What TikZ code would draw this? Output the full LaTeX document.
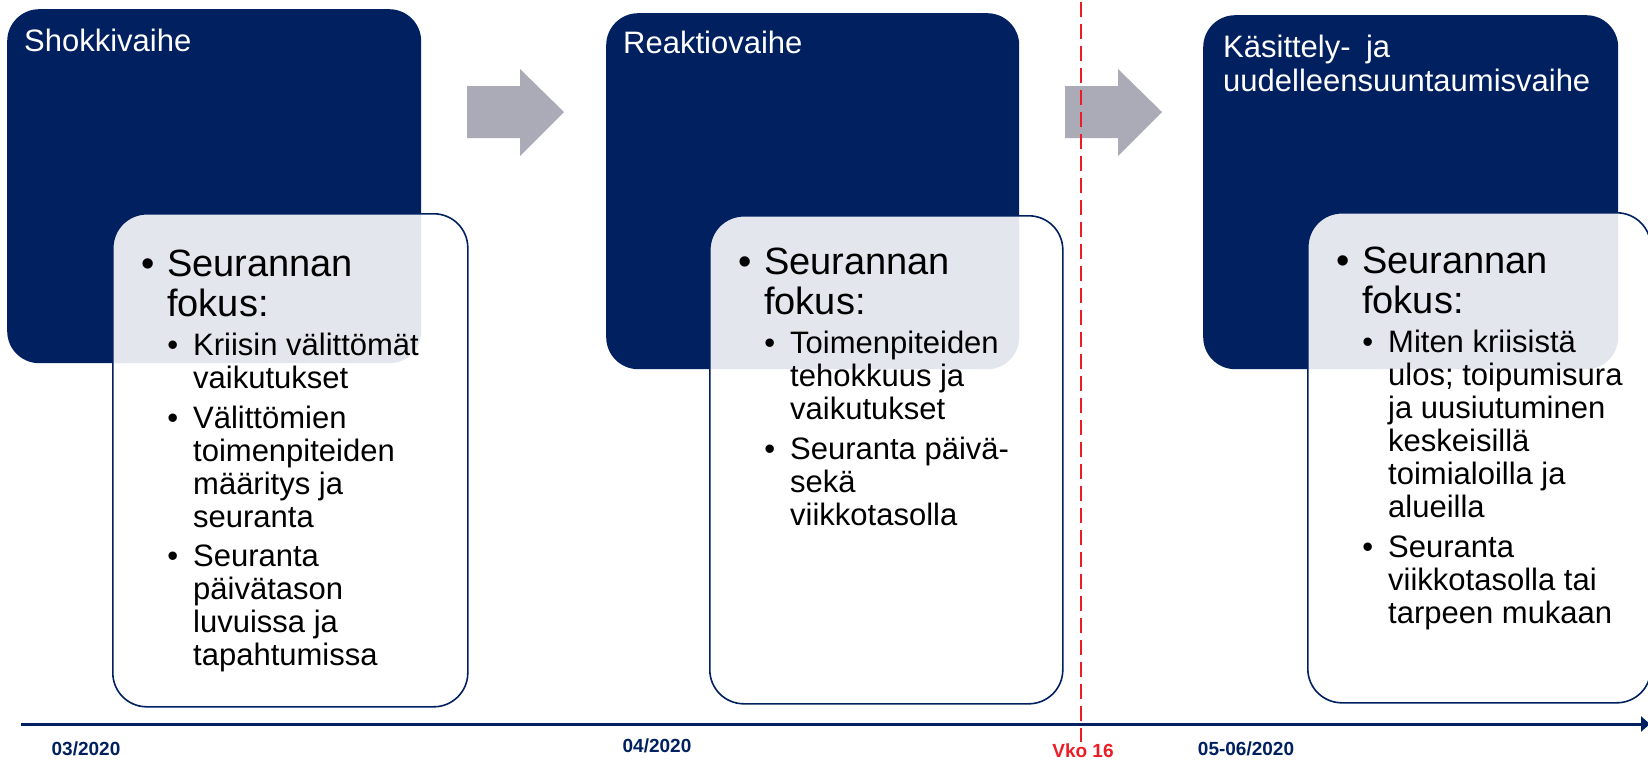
\documentclass[tikz,border=0pt]{standalone}
\usepackage{fontspec}
\setmainfont{Liberation Sans}
\usetikzlibrary{arrows.meta,positioning}
\definecolor{navy}{RGB}{0,32,96}
\definecolor{arrowgrey}{RGB}{170,171,182}
\definecolor{vkored}{RGB}{237,28,36}
\newcommand{\focushead}{\fontsize{38}{40}\selectfont\spaceskip=0pt\xspaceskip=0pt\leftskip=25pt\noindent\llap{\textbullet\hskip12pt}Seurannan\\fokus:\par}
\newcommand{\focusitem}[1]{\vspace{6.5pt}\fontsize{31}{33}\selectfont\leftskip=51pt\noindent\llap{\textbullet\hskip15pt}#1\par}
\tikzset{
    phase-box/.style = {fill=navy, rounded corners=32pt, inner sep=0pt, anchor=north west},
    phase-title/.style = {text=white, text width=390pt, inner sep=0pt, anchor=base west, font=\fontsize{31}{35}\selectfont},
    focus-box/.style = {draw=navy, line width=1.6pt, fill=white, fill opacity=0.89, rounded corners=34pt, inner sep=0pt, anchor=north west},
    focus-text/.style = {text width=300pt, inner sep=0pt, anchor=base west, text=black},
    step-arrow/.style = {fill=arrowgrey},
    vko-line/.style = {draw=vkored, line width=1.5pt, dash pattern=on 15pt off 7pt},
    time-line/.style = {draw=navy, line width=3pt, -{Triangle[length=9pt,width=15pt]}},
    date-label/.style = {text=navy, font=\bfseries\fontsize{19}{19}\selectfont, inner sep=0pt, anchor=base},
}

\begin{document}
\begin{tikzpicture}[x=1pt, y=-1pt]
\useasboundingbox (0,0) rectangle (1648,760);

% phases
\node[phase-box, minimum width=414pt, minimum height=354pt] (shock) at (7,9) {};
\node[phase-box, minimum width=413pt, minimum height=356pt] (reaction) at (606,13) {};
\node[phase-box, minimum width=415pt, minimum height=354pt] (recovery) at (1203,15) {};
\node[phase-title] (shocktitle) at ([shift={(17,43)}]shock.north west) {Shokkivaihe};
\node[phase-title] (reactiontitle) at ([shift={(17,41)}]reaction.north west) {Reaktiovaihe};
\node[phase-title] (recoverytitle) at ([shift={(20,42)}]recovery.north west) {Käsittely-\hspace{5pt} ja\\uudelleensuuntaumisvaihe};

% focus boxes
\node[focus-box, minimum width=355pt, minimum height=493pt] (shockfocus) at (112,213) {};
\node[focus-box, minimum width=353pt, minimum height=488pt] (reactionfocus) at (709,215) {};
\node[focus-box, minimum width=343pt, minimum height=490pt] (recoveryfocus) at (1307,212) {};

\node[focus-text] (shocktext) at ([shift={(30,63)}]shockfocus.north west) {\focushead
    \focusitem{Kriisin välittömät\\vaikutukset}
    \focusitem{Välittömien\\toimenpiteiden\\määritys ja\\seuranta}
    \focusitem{Seuranta\\päivätason\\luvuissa ja\\tapahtumissa}};
\node[focus-text] (reactiontext) at ([shift={(30,59)}]reactionfocus.north west) {\focushead
    \focusitem{Toimenpiteiden\\tehokkuus ja\\vaikutukset}
    \focusitem{Seuranta päivä-\\sekä\\viikkotasolla}};
\node[focus-text] (recoverytext) at ([shift={(30,61)}]recoveryfocus.north west) {\focushead
    \focusitem{Miten kriisistä\\ulos; toipumisura\\ja uusiutuminen\\keskeisillä\\toimialoilla ja\\alueilla}
    \focusitem{Seuranta\\viikkotasolla tai\\tarpeen mukaan}};

% arrows between phases
\foreach \dx in {0,598}
    \fill[step-arrow, shift={(\dx,0)}] (467,86) -- (520,86) -- (520,69) -- (564,112) -- (520,156) -- (520,138) -- (467,138) -- cycle;

% week 16 marker
\coordinate (vkotop) at (1081,2);
\coordinate (vkobottom) at (1081,742);
\draw[vko-line] (vkotop) -- (vkobottom);

% timeline
\coordinate (timestart) at (21,724);
\coordinate (timeend) at (1650,724);
\draw[time-line] (timestart) -- (timeend);

\node[date-label] (march) at (86,755) {03/2020};
\node[date-label] (april) at (657,752) {04/2020};
\node[date-label, text=vkored] (vko) at (1083,757) {Vko 16};
\node[date-label] (mayjune) at (1246,755) {05-06/2020};
\end{tikzpicture}
\end{document}
